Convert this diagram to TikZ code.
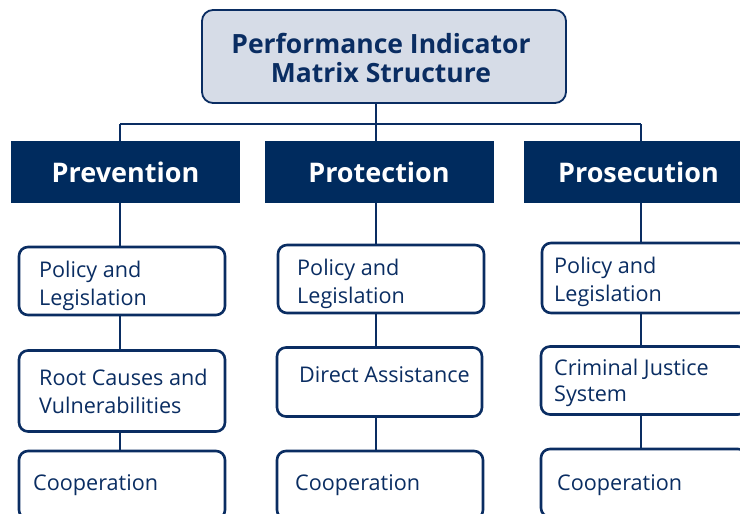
\documentclass[tikz,border=0pt]{standalone}
\usepackage{fontspec}
\setmainfont{Open Sans}
\definecolor{navy}{HTML}{0A2D62}
\definecolor{hdr}{HTML}{002B5E}
\definecolor{ttl}{HTML}{D6DCE7}
\begin{document}
\begin{tikzpicture}[x=1pt,y=-1pt,
 conn/.style={draw=navy, line width=2.6pt},
 titlebox/.style={draw=navy, line width=1.8pt, fill=ttl, rounded corners=11pt,
   minimum width=364pt, minimum height=93pt, inner sep=0pt},
 titletxt/.style={align=center, text=navy, inner sep=0pt,
   font=\bfseries\fontsize{26.5}{29}\selectfont},
 hdrbox/.style={fill=hdr, text=white, minimum width=229pt, minimum height=62pt,
   inner sep=0pt, font=\bfseries\fontsize{27}{30}\selectfont},
 subbox/.style={draw=navy, line width=2.6pt, fill=white, rounded corners=9pt,
   minimum width=206pt, minimum height=68pt, inner sep=0pt},
 subtxt/.style={anchor=base west, align=left, text=navy, inner sep=0pt,
   font=\fontsize{21.6}{28}\selectfont},
]
\useasboundingbox (0,0) rectangle (740,514);

% bus coordinates
\coordinate (b1) at (120,124);
\coordinate (b2) at (376,124);
\coordinate (b3) at (641,124);

% title
\node[titlebox] (title) at (384,56.5) {};
\node[titletxt] (titlet) at (381,58) {Performance Indicator\\Matrix Structure};

% headers
\node[hdrbox] (h1) at (125.5,172) {Prevention};
\node[hdrbox] (h2) at (379,172) {Protection};
\node[hdrbox] (h3) at (638.5,172) {Prosecution};

% column 1 boxes
\node[subbox] (p1) at (122,281) {};
\node[subbox, minimum height=81pt] (r1) at (122,391) {};
\node[subbox] (c1) at (122,485) {};
% column 2 boxes
\node[subbox, minimum width=206pt] (p2) at (381,279) {};
\node[subbox, minimum width=205pt, minimum height=69pt] (d2) at (379.5,382) {};
\node[subbox] (c2) at (380,485) {};
% column 3 boxes
\node[subbox, minimum height=70pt] (p3) at (645,278) {};
\node[subbox] (j3) at (644,380.5) {};
\node[subbox] (c3) at (644,483) {};

% texts (base anchor = baseline of last line)
\node[subtxt] (p1t) at (39,305) {Policy and\\Legislation};
\node[subtxt] (r1t) at (39,413) {Root Causes and\\Vulnerabilities};
\node[subtxt] (c1t) at (33,490) {Cooperation};
\node[subtxt] (p2t) at (297,303) {Policy and\\Legislation};
\node[subtxt] (d2t) at (299,382.7) {Direct Assistance};
\node[subtxt] (c2t) at (295,490.7) {Cooperation};
\node[subtxt] (p3t) at (554,301.7) {Policy and\\Legislation};
\node[subtxt, font=\fontsize{21.6}{26}\selectfont] (j3t) at (554,401) {Criminal Justice\\System};
\node[subtxt] (c3t) at (557,490.7) {Cooperation};

% connectors
\draw[conn] (title.south -| b2) -- (b2);
\draw[conn] (b1) -- (b3);
\draw[conn] (b1) -- (h1.north -| b1);
\draw[conn] (b2) -- (h2.north -| b2);
\draw[conn] (b3) -- (h3.north -| b3);
\draw[conn] (h1.south -| b1) -- (p1.north -| b1);
\draw[conn] (p1.south -| b1) -- (r1.north -| b1);
\draw[conn] (r1.south -| b1) -- (c1.north -| b1);
\draw[conn] (h2.south -| b2) -- (p2.north -| b2);
\draw[conn] (p2.south -| b2) -- (d2.north -| b2);
\draw[conn] (d2.south -| b2) -- (c2.north -| b2);
\draw[conn] (h3.south -| b3) -- (p3.north -| b3);
\draw[conn] (p3.south -| b3) -- (j3.north -| b3);
\draw[conn] (j3.south -| b3) -- (c3.north -| b3);
\end{tikzpicture}
\end{document}
